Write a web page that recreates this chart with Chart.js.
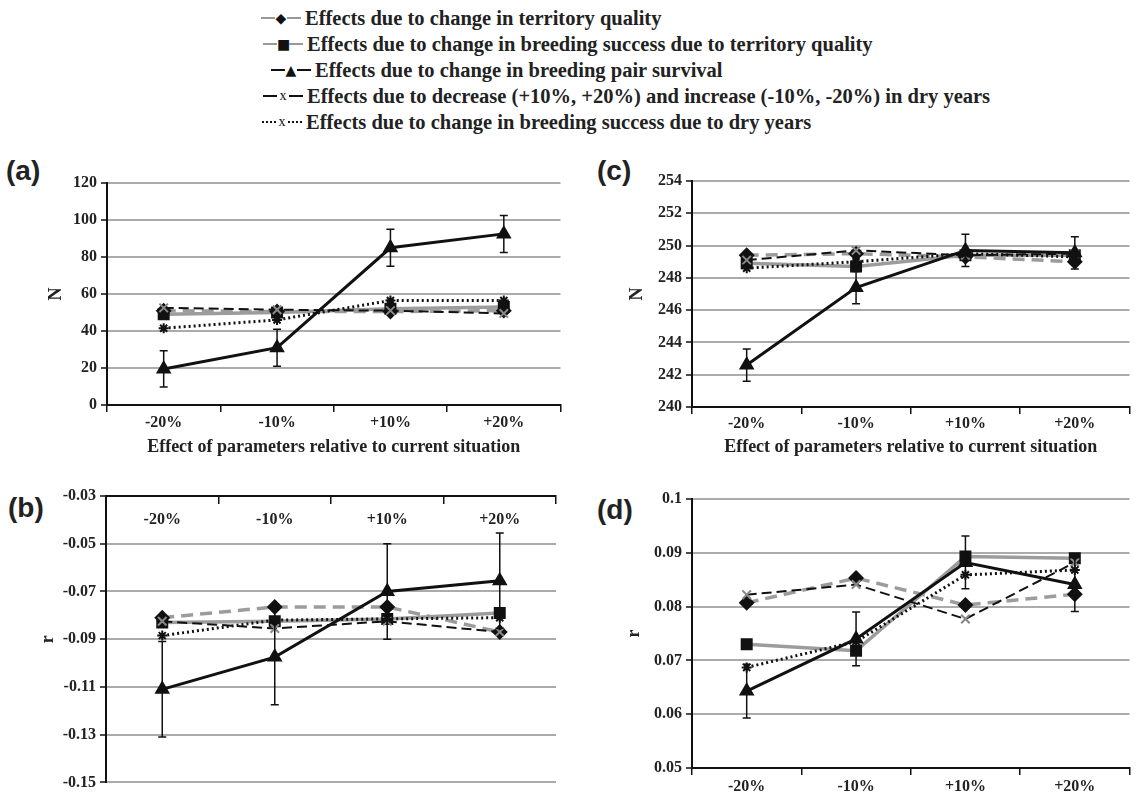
<!DOCTYPE html>
<html>
<head>
<meta charset="utf-8">
<script src="https://cdn.jsdelivr.net/npm/chart.js@4.4.0/dist/chart.umd.min.js"></script>
<style>
  body { margin: 0; background: #fff; }
  #page { position: relative; width: 1139px; height: 796px; overflow: hidden; background: #fff; }
  canvas { position: absolute; }
  .tag { position: absolute; font: bold 28px 'Liberation Sans', Arial, sans-serif; color: #222; line-height: 1; }
  .row { position: absolute; height: 26px; display: flex; align-items: center; white-space: nowrap;
         font: bold 20.5px 'Liberation Serif', serif; color: #222; }
  .sym { display: inline-flex; align-items: center; width: 40px; margin-right: 4px; justify-content: flex-end; }
  .seg { display: inline-block; width: 14px; height: 0; }
  .mk { display: inline-block; width: 12px; text-align: center; font: 14px 'DejaVu Sans', sans-serif; color: #111; }
</style>
</head>
<body>
<div id="page">
  <div class="row" style="left:261px;top:5px"><span class="sym"><span class="seg" style="border-top:2px solid #999"></span><span class="mk">◆</span><span class="seg" style="border-top:2px solid #999"></span></span>Effects due to change in territory quality</div>
  <div class="row" style="left:263px;top:31px"><span class="sym"><span class="seg" style="border-top:2px solid #999"></span><span class="mk">■</span><span class="seg" style="border-top:2px solid #999"></span></span>Effects due to change in breeding success due to territory quality</div>
  <div class="row" style="left:271px;top:57px"><span class="sym"><span class="seg" style="border-top:2px solid #111"></span><span class="mk">▲</span><span class="seg" style="border-top:2px solid #111"></span></span>Effects due to change in breeding pair survival</div>
  <div class="row" style="left:263px;top:83px"><span class="sym"><span class="seg" style="border-top:2px solid #111"></span><span class="mk" style="font-family:'Liberation Serif'">x</span><span class="seg" style="border-top:2px solid #111"></span></span>Effects due to decrease (+10%, +20%) and increase (-10%, -20%) in dry years</div>
  <div class="row" style="left:262px;top:109px"><span class="sym"><span class="seg" style="border-top:2px dotted #111"></span><span class="mk" style="font-family:'Liberation Serif'">x</span><span class="seg" style="border-top:2px dotted #111"></span></span>Effects due to change in breeding success due to dry years</div>

  <div class="tag" style="left:6px;top:157px">(a)</div>
  <div class="tag" style="left:597px;top:157px">(c)</div>
  <div class="tag" style="left:8px;top:494px">(b)</div>
  <div class="tag" style="left:597px;top:496px">(d)</div>

  <canvas id="chartA" width="570" height="322" style="left:0;top:140px"></canvas>
  <canvas id="chartC" width="559" height="322" style="left:580px;top:140px"></canvas>
  <canvas id="chartB" width="570" height="334" style="left:0;top:462px"></canvas>
  <canvas id="chartD" width="559" height="334" style="left:580px;top:462px"></canvas>
</div>

<script>
const categories = ['-20%', '-10%', '+10%', '+20%'];
const xTitle = 'Effect of parameters relative to current situation';

// (a) population size N
const aTerritory = [51, 50.5, 50.5, 51];
const aBreedTerritory = [49, 50, 52, 53];
const aSurvival = [19.5, 31, 85, 92.5];
const aSurvivalErr = [9.8, 10, 10, 10];
const aDryYears = [52.5, 51.5, 51, 49.5];
const aBreedDry = [41.5, 46, 56.5, 56.5];

// (b) growth rate r
const bTerritory = [-0.081, -0.0765, -0.0765, -0.087];
const bBreedTerritory = [-0.083, -0.0825, -0.0815, -0.079];
const bSurvival = [-0.111, -0.0975, -0.070, -0.0655];
const bSurvivalErr = [0.02, 0.02, 0.02, 0.02];
const bDryYears = [-0.0825, -0.0855, -0.0825, -0.087];
const bBreedDry = [-0.0885, -0.082, -0.0815, -0.081];

// (c) population size N
const cTerritory = [249.4, 249.5, 249.3, 249.0];
const cBreedTerritory = [248.9, 248.7, 249.4, 249.4];
const cSurvival = [242.6, 247.4, 249.7, 249.55];
const cSurvivalErr = [1.0, 1.0, 1.0, 1.0];
const cDryYears = [249.1, 249.7, 249.4, 249.5];
const cBreedDry = [248.6, 249.0, 249.5, 249.3];

// (d) growth rate r
const dTerritory = [0.0807, 0.0853, 0.0803, 0.0823];
const dBreedTerritory = [0.0730, 0.0718, 0.0893, 0.0890];
const dSurvival = [0.0643, 0.0740, 0.0882, 0.0841];
const dSurvivalErr = [0.005, 0.005, 0.0049, 0.005];
const dDryYears = [0.0822, 0.0841, 0.0777, 0.0882];
const dBreedDry = [0.0687, 0.0735, 0.0859, 0.0868];

const tickFont = { family: "'Liberation Serif', serif", weight: 'bold', size: 16 };
const titleFont = { family: "'Liberation Serif', serif", weight: 'bold', size: 18 };

// error bars for datasets that carry an "errors" array
const errorBars = {
  id: 'errorBars',
  afterDatasetsDraw(chart) {
    const ctx = chart.ctx;
    const y = chart.scales.y;
    chart.data.datasets.forEach((ds, i) => {
      if (!ds.errors) return;
      const meta = chart.getDatasetMeta(i);
      ctx.save();
      ctx.strokeStyle = '#111';
      ctx.lineWidth = 1.5;
      meta.data.forEach((pt, j) => {
        const top = y.getPixelForValue(ds.data[j] + ds.errors[j]);
        const bot = y.getPixelForValue(ds.data[j] - ds.errors[j]);
        ctx.beginPath();
        ctx.moveTo(pt.x, top); ctx.lineTo(pt.x, bot);
        ctx.moveTo(pt.x - 4, top); ctx.lineTo(pt.x + 4, top);
        ctx.moveTo(pt.x - 4, bot); ctx.lineTo(pt.x + 4, bot);
        ctx.stroke();
      });
      ctx.restore();
    });
  }
};

// first dataset is drawn on top
function buildDatasets(territory, breedTerr, survival, survivalErr, dry, breedDry) {
  return [
    {
      data: survival, errors: survivalErr,
      borderColor: '#111', borderWidth: 3,
      pointStyle: 'triangle', pointRadius: 6,
      pointBackgroundColor: '#111', pointBorderColor: '#111'
    },
    {
      data: breedDry,
      borderColor: '#111', borderWidth: 3, borderDash: [2, 3],
      pointStyle: 'star', pointRadius: 5, pointBorderWidth: 2,
      pointBorderColor: '#111'
    },
    {
      data: dry,
      borderColor: '#111', borderWidth: 2, borderDash: [10, 5],
      pointStyle: 'crossRot', pointRadius: 6, pointBorderWidth: 2,
      pointBorderColor: '#888'
    },
    {
      data: territory,
      borderColor: '#9c9c9c', borderWidth: 3.5, borderDash: [12, 7],
      pointStyle: 'rectRot', pointRadius: 5.5,
      pointBackgroundColor: '#111', pointBorderColor: '#111'
    },
    {
      data: breedTerr,
      borderColor: '#9c9c9c', borderWidth: 3.5,
      pointStyle: 'rect', pointRadius: 6,
      pointBackgroundColor: '#111', pointBorderColor: '#111'
    }
  ];
}

function makeChart(id, datasets, p) {
  const xScale = {
    position: p.xPos || 'bottom',
    offset: true,
    grid: { drawOnChartArea: false, offset: true, color: '#111', tickLength: 7, lineWidth: 1.5 },
    border: { color: '#111', width: 2 },
    ticks: { font: tickFont, color: '#222', padding: p.xPad, maxRotation: 0 },
    title: { display: !!p.xTitle, text: xTitle, font: titleFont, color: '#222', padding: { top: 0, bottom: 4 } }
  };
  if (p.xHeight) xScale.afterFit = s => { s.height = p.xHeight; };

  new Chart(document.getElementById(id), {
    type: 'line',
    data: { labels: categories, datasets: datasets },
    options: {
      responsive: false,
      animation: false,
      devicePixelRatio: 1,
      elements: { line: { tension: 0 } },
      layout: { padding: p.padding },
      plugins: { legend: { display: false }, tooltip: { enabled: false } },
      scales: {
        x: xScale,
        y: {
          min: p.min, max: p.max,
          grid: { color: '#ababab', lineWidth: 2, tickColor: '#111', tickLength: 6, tickWidth: 1.5 },
          border: { color: '#111', width: 2 },
          ticks: { stepSize: p.step, font: tickFont, color: '#222', padding: 4, callback: p.fmt },
          title: { display: true, text: p.yTitle, font: titleFont, color: '#222', padding: { top: p.yTitlePad, bottom: 0 } },
          afterFit: s => { s.width = p.yWidth; }
        }
      }
    },
    plugins: [errorBars]
  });
}

makeChart('chartA', buildDatasets(aTerritory, aBreedTerritory, aSurvival, aSurvivalErr, aDryYears, aBreedDry), {
  padding: { top: 43, right: 7, left: 0, bottom: 0 },
  min: 0, max: 120, step: 20, fmt: v => v,
  yTitle: 'N', yTitlePad: 46, yWidth: 107,
  xTitle: true, xHeight: 57, xPad: 1
});

makeChart('chartC', buildDatasets(cTerritory, cBreedTerritory, cSurvival, cSurvivalErr, cDryYears, cBreedDry), {
  padding: { top: 41, right: 0, left: 0, bottom: 0 },
  min: 240, max: 254, step: 2, fmt: v => v,
  yTitle: 'N', yTitlePad: 47, yWidth: 112,
  xTitle: true, xHeight: 55, xPad: 0
});

// (b) has its category axis along the top edge (at r = -0.03), labels below it
makeChart('chartB', buildDatasets(bTerritory, bBreedTerritory, bSurvival, bSurvivalErr, bDryYears, bBreedDry), {
  padding: { top: 34, right: 14, left: 0, bottom: 6 },
  min: -0.15, max: -0.03, step: 0.02, fmt: v => v.toFixed(2),
  yTitle: 'r', yTitlePad: 38, yWidth: 106,
  xPos: { y: -0.03 }, xTitle: false, xPad: 7
});

makeChart('chartD', buildDatasets(dTerritory, dBreedTerritory, dSurvival, dSurvivalErr, dDryYears, dBreedDry), {
  padding: { top: 37, right: 9, left: 0, bottom: 0 },
  min: 0.05, max: 0.1, step: 0.01, fmt: v => String(parseFloat(v.toFixed(2))),
  yTitle: 'r', yTitlePad: 44, yWidth: 112,
  xTitle: false, xHeight: 28, xPad: 2
});
</script>
</body>
</html>
